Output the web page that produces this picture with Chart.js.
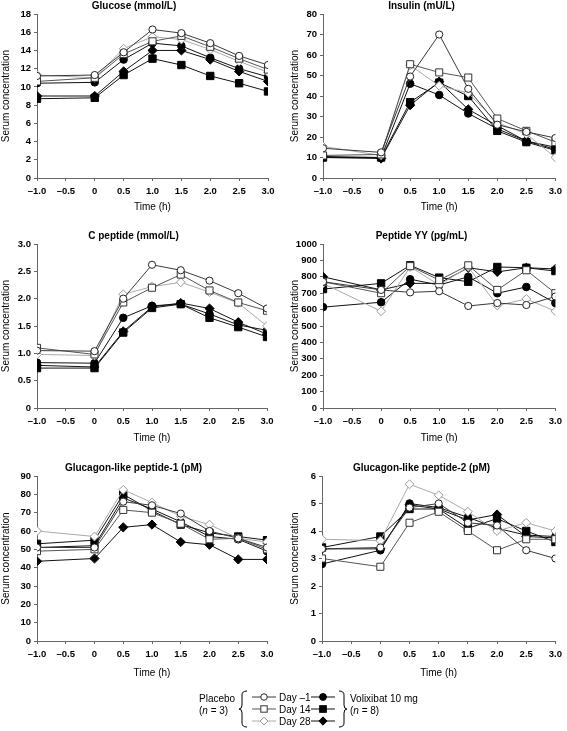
<!DOCTYPE html>
<html><head><meta charset="utf-8">
<script src="https://cdn.jsdelivr.net/npm/chart.js@4.4.0/dist/chart.umd.min.js"></script>
<style>
body{margin:0;background:#fff;width:567px;height:731px;position:relative;overflow:hidden;font-family:"Liberation Sans",Arial,sans-serif}
canvas{position:absolute}
svg{position:absolute}
</style></head><body>
<canvas id="c1" width="283" height="220" style="left:0;top:0"></canvas>
<canvas id="c2" width="284" height="220" style="left:283px;top:0"></canvas>
<canvas id="c3" width="283" height="220" style="left:0;top:230px"></canvas>
<canvas id="c4" width="284" height="220" style="left:283px;top:230px"></canvas>
<canvas id="c5" width="283" height="221" style="left:0;top:462px"></canvas>
<canvas id="c6" width="284" height="221" style="left:283px;top:462px"></canvas>
<svg id="leg" width="567" height="50" style="left:0;top:681px"></svg>
<script>
// ---- Data ----
const times = [-1, 0, 0.5, 1, 1.5, 2, 2.5, 3];
const xTickLabels = ['–1.0','–0.5','0','0.5','1.0','1.5','2.0','2.5','3.0'];
const seriesNames = ['Placebo Day –1','Placebo Day 14','Placebo Day 28','Volixibat Day –1','Volixibat Day 14','Volixibat Day 28'];
const panelTitles = ['Glucose (mmol/L)','Insulin (mU/L)','C peptide (mmol/L)','Peptide YY (pg/mL)','Glucagon-like peptide-1 (pM)','Glucagon-like peptide-2 (pM)'];

// Glucose
const glucosePlaceboD1   = [11.2, 11.3, 13.8, 16.3, 15.9, 14.8, 13.4, 12.4];
const glucosePlaceboD14  = [10.6, 11.0, 13.6, 15.0, 15.6, 14.4, 13.1, 11.9];
const glucosePlaceboD28  = [11.3, 11.0, 14.2, 15.5, 15.2, 14.1, 12.8, 11.6];
const glucoseVoliD1      = [10.4, 10.5, 13.0, 14.8, 14.5, 13.2, 12.0, 11.1];
const glucoseVoliD14     = [8.7, 8.8, 11.3, 13.1, 12.4, 11.2, 10.4, 9.5];
const glucoseVoliD28     = [9.0, 9.0, 11.7, 14.0, 14.0, 13.0, 11.7, 10.6];
// Insulin
const insulinPlaceboD1   = [14.5, 12.5, 49.5, 70, 43.5, 26, 22.5, 19.5];
const insulinPlaceboD14  = [11, 11.5, 55.5, 51.5, 49, 29, 23, 17.5];
const insulinPlaceboD28  = [15.4, 11, 55, 45, 41.5, 27, 21.5, 10];
const insulinVoliD1      = [10.5, 10, 46, 40.5, 31.5, 24, 18, 15];
const insulinVoliD14     = [10, 10, 37, 46.5, 40, 23, 17.5, 13.5];
const insulinVoliD28     = [10, 9.5, 35.5, 47, 33.5, 25.5, 18, 14];
// C peptide
const cpepPlaceboD1      = [1.05, 1.04, 2.0, 2.62, 2.52, 2.33, 2.1, 1.82];
const cpepPlaceboD14     = [1.1, 0.98, 1.93, 2.2, 2.44, 2.15, 1.93, 1.78];
const cpepPlaceboD28     = [0.98, 0.96, 2.08, 2.22, 2.3, 2.12, 1.92, 1.5];
const cpepVoliD1         = [0.83, 0.82, 1.65, 1.87, 1.9, 1.72, 1.52, 1.42];
const cpepVoliD14        = [0.73, 0.73, 1.38, 1.83, 1.9, 1.65, 1.48, 1.3];
const cpepVoliD28        = [0.78, 0.75, 1.4, 1.85, 1.92, 1.82, 1.57, 1.35];
// Peptide YY
const pyyPlaceboD1       = [770, 720, 705, 712, 622, 640, 628, 680];
const pyyPlaceboD14      = [770, 700, 865, 780, 870, 720, 840, 700];
const pyyPlaceboD28      = [760, 590, 860, 750, 860, 625, 665, 590];
const pyyVoliD1          = [615, 645, 785, 750, 800, 700, 738, 640];
const pyyVoliD14         = [725, 760, 870, 795, 770, 860, 855, 835];
const pyyVoliD28         = [800, 720, 760, 760, 855, 830, 855, 848];
// GLP-1
const glp1PlaceboD1      = [51, 51, 76, 74, 69.5, 60, 56, 51];
const glp1PlaceboD14     = [49, 50, 71.5, 70, 64, 55.5, 56, 50];
const glp1PlaceboD28     = [60, 57, 82.5, 75.5, 68, 63.5, 56, 54];
const glp1VoliD1         = [51, 52, 78, 72, 65, 57, 55.5, 49];
const glp1VoliD14        = [53, 55, 80, 71, 63.5, 59, 57, 55];
const glp1VoliD28        = [43.5, 45, 62, 63.5, 54, 52.5, 44.5, 44.5];
// GLP-2
const glp2PlaceboD1      = [3.35, 3.4, 4.85, 5.0, 4.3, 4.2, 3.3, 3.0];
const glp2PlaceboD14     = [3.0, 2.7, 4.3, 4.7, 4.0, 3.3, 3.7, 3.7];
const glp2PlaceboD28     = [3.7, 3.65, 5.7, 5.3, 4.7, 4.0, 4.3, 4.0];
const glp2VoliD1         = [2.8, 3.3, 5.0, 4.85, 4.5, 4.1, 3.85, 3.8];
const glp2VoliD14        = [3.4, 3.8, 4.8, 4.8, 4.1, 4.45, 4.0, 3.6];
const glp2VoliD28        = [3.35, 3.35, 4.95, 4.8, 4.4, 4.6, 3.8, 3.75];

const yMax  = [18, 80, 3, 1000, 90, 6];
const yStep = [2, 10, 0.5, 100, 10, 1];

// ---- Styles ----
const FONT = '"Liberation Sans", Arial, sans-serif';
const styles = [
  {pointStyle:'circle',  radius:3.6, line:'#3a3a3a', border:'#222', fill:'#fff'},
  {pointStyle:'rect',    radius:5.0, line:'#555',    border:'#333', fill:'#fff'},
  {pointStyle:'rectRot', radius:4.4, line:'#aaa',    border:'#999', fill:'#fff'},
  {pointStyle:'circle',  radius:3.8, line:'#111',    border:'#000', fill:'#000'},
  {pointStyle:'rect',    radius:5.2, line:'#111',    border:'#000', fill:'#000'},
  {pointStyle:'rectRot', radius:4.6, line:'#111',    border:'#000', fill:'#000'}
];

const panels = [
  {id:'c1', series:[glucosePlaceboD1,glucosePlaceboD14,glucosePlaceboD28,glucoseVoliD1,glucoseVoliD14,glucoseVoliD28], yw:37, pr:15, yt:0, xb:7},
  {id:'c2', series:[insulinPlaceboD1,insulinPlaceboD14,insulinPlaceboD28,insulinVoliD1,insulinVoliD14,insulinVoliD28], yw:40, pr:7, yt:6, xb:7},
  {id:'c3', series:[cpepPlaceboD1,cpepPlaceboD14,cpepPlaceboD28,cpepVoliD1,cpepVoliD14,cpepVoliD28], yw:37, pr:16, yt:0, xb:6},
  {id:'c4', series:[pyyPlaceboD1,pyyPlaceboD14,pyyPlaceboD28,pyyVoliD1,pyyVoliD14,pyyVoliD28], yw:40, pr:7, yt:6, xb:6},
  {id:'c5', series:[glp1PlaceboD1,glp1PlaceboD14,glp1PlaceboD28,glp1VoliD1,glp1VoliD14,glp1VoliD28], yw:37, pr:16, yt:0, xb:4},
  {id:'c6', series:[glp2PlaceboD1,glp2PlaceboD14,glp2PlaceboD28,glp2VoliD1,glp2VoliD14,glp2VoliD28], yw:39, pr:7, yt:6, xb:4}
];

function yLabel(v, step){
  if (v === 0) return '0';
  return step < 1 ? v.toFixed(1) : String(v);
}

panels.forEach((p, pi) => {
  const datasets = p.series.map((vals, si) => {
    const s = styles[si];
    return {
      label: seriesNames[si],
      data: vals.map((v, i) => ({x: times[i], y: v})),
      borderColor: s.line, borderWidth: 1,
      pointStyle: s.pointStyle, pointRadius: s.radius,
      pointBackgroundColor: s.fill, pointBorderColor: s.border, pointBorderWidth: 1,
      tension: 0, fill: false
    };
  });
  new Chart(document.getElementById(p.id), {
    type: 'line',
    data: {datasets},
    options: {
      responsive: false, animation: false, devicePixelRatio: 1,
      events: [],
      layout: {padding: {left: 0, right: p.pr, top: 0, bottom: 0}},
      plugins: {
        legend: {display: false}, tooltip: {enabled: false},
        title: {display: true, text: panelTitles[pi], color: '#000',
          font: {family: FONT, size: 10, weight: 'bold', lineHeight: 1.2},
          padding: {top: 0, bottom: 2}}
      },
      scales: {
        x: {
          type: 'linear', min: -1, max: 3,
          afterFit: s => { s.height = 42; },
          ticks: {stepSize: 0.5, autoSkip: false, maxRotation: 0, padding: 5, color: '#000',
            font: {family: FONT, size: 9.5, weight: 'bold'},
            callback: v => xTickLabels[Math.round((v + 1) * 2)]},
          grid: {drawOnChartArea: false, drawTicks: true, tickLength: 3, color: '#666'},
          border: {color: '#666', width: 1},
          title: {display: true, text: 'Time (h)', color: '#000',
            font: {family: FONT, size: 10}, padding: {top: 0, bottom: p.xb}}
        },
        y: {
          min: 0, max: yMax[pi],
          afterFit: s => { s.width = p.yw; },
          ticks: {stepSize: yStep[pi], autoSkip: false, padding: 3, color: '#000',
            font: {family: FONT, size: 9.5, weight: 'bold'},
            callback: v => yLabel(v, yStep[pi])},
          grid: {drawOnChartArea: false, drawTicks: true, tickLength: 3, color: '#666'},
          border: {color: '#666', width: 1},
          title: {display: true, text: 'Serum concentration', color: '#000',
            font: {family: FONT, size: 10}, padding: {top: p.yt, bottom: 0}}
        }
      }
    }
  });
});

// ---- Legend (key) ----
const svgNS = 'http://www.w3.org/2000/svg';
const leg = document.getElementById('leg');
function el(tag, attrs, text){
  const e = document.createElementNS(svgNS, tag);
  for (const k in attrs) e.setAttribute(k, attrs[k]);
  if (text !== undefined) e.textContent = text;
  leg.appendChild(e);
  return e;
}
const rowY = [16, 28, 40];
const dayLabels = ['Day –1', 'Day 14', 'Day 28'];
function marker(cx, cy, si){
  const s = styles[si];
  const r = s.radius * 0.9;
  if (s.pointStyle === 'circle') el('circle', {cx, cy, r, fill: s.fill, stroke: s.border, 'stroke-width': 1});
  else if (s.pointStyle === 'rect') { const h = r * Math.SQRT1_2; el('rect', {x: cx - h, y: cy - h, width: 2*h, height: 2*h, fill: s.fill, stroke: s.border, 'stroke-width': 1}); }
  else el('polygon', {points: `${cx-r},${cy} ${cx},${cy-r} ${cx+r},${cy} ${cx},${cy+r}`, fill: s.fill, stroke: s.border, 'stroke-width': 1});
}
rowY.forEach((y, i) => {
  el('line', {x1: 252, y1: y, x2: 276, y2: y, stroke: styles[i].line, 'stroke-width': 1});
  marker(264, y, i);
  el('text', {x: 279, y: y + 3.5, 'font-family': FONT, 'font-size': 10, fill: '#000'}, dayLabels[i]);
  el('line', {x1: 311, y1: y, x2: 335, y2: y, stroke: '#111', 'stroke-width': 1});
  marker(323, y, i + 3);
});
el('text', {x: 199, y: 21, 'font-family': FONT, 'font-size': 10, fill: '#000'}, 'Placebo');
const t1 = el('text', {x: 199, y: 33, 'font-family': FONT, 'font-size': 10, fill: '#000'}, '(');
const ti = document.createElementNS(svgNS, 'tspan'); ti.setAttribute('font-style', 'italic'); ti.textContent = 'n'; t1.appendChild(ti);
const tr = document.createElementNS(svgNS, 'tspan'); tr.textContent = ' = 3)'; t1.appendChild(tr);
el('text', {x: 350, y: 21, 'font-family': FONT, 'font-size': 10, fill: '#000'}, 'Volixibat 10 mg');
const t2 = el('text', {x: 350, y: 33, 'font-family': FONT, 'font-size': 10, fill: '#000'}, '(');
const ti2 = document.createElementNS(svgNS, 'tspan'); ti2.setAttribute('font-style', 'italic'); ti2.textContent = 'n'; t2.appendChild(ti2);
const tr2 = document.createElementNS(svgNS, 'tspan'); tr2.textContent = ' = 8)'; t2.appendChild(tr2);
// braces
el('path', {d: 'M247,10 Q242,10 242,14 L242,24 Q242,28 239,28 Q242,28 242,32 L242,42 Q242,46 247,46', fill: 'none', stroke: '#000', 'stroke-width': 1});
el('path', {d: 'M339,10 Q344,10 344,14 L344,24 Q344,28 347,28 Q344,28 344,32 L344,42 Q344,46 339,46', fill: 'none', stroke: '#000', 'stroke-width': 1});
</script>
</body></html>
